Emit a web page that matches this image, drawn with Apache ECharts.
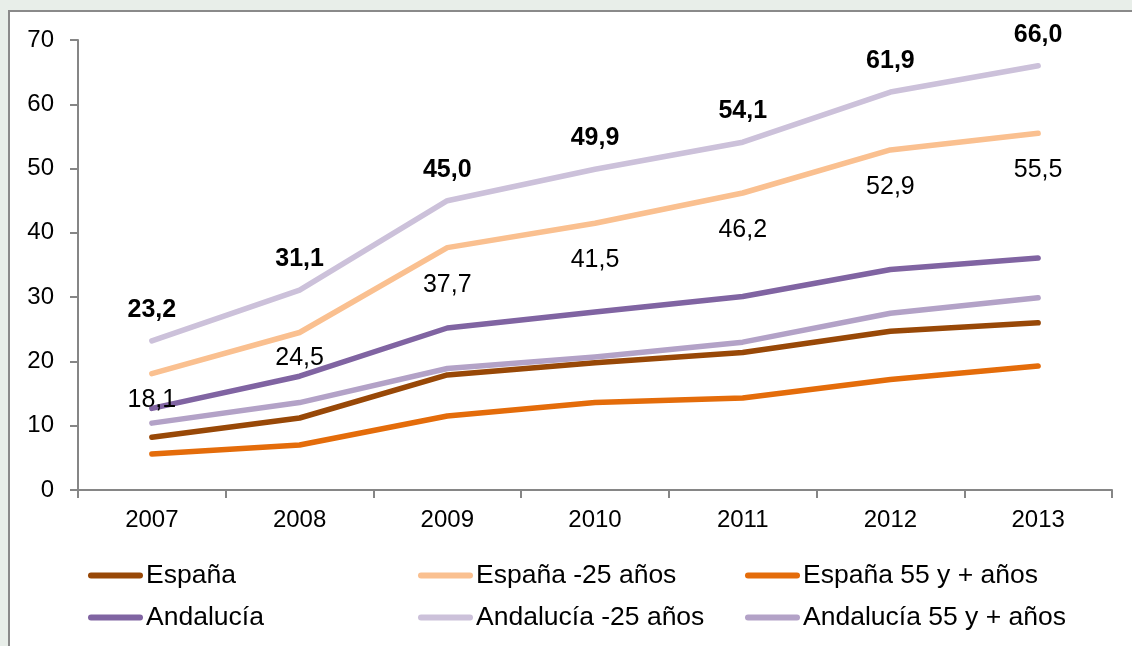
<!DOCTYPE html>
<html>
<head>
<meta charset="utf-8">
<script src="https://cdn.jsdelivr.net/npm/echarts@6/dist/echarts.min.js"></script>
<style>
html,body{margin:0;padding:0;background:#e8eee9;}
#chart{width:1132px;height:646px;}
</style>
</head>
<body>
<div id="chart"></div>
<script>
var years = ['2007','2008','2009','2010','2011','2012','2013'];
var yTicks = [0,10,20,30,40,50,60,70];
var seriesNames = ['España','España -25 años','España 55 y + años','Andalucía','Andalucía -25 años','Andalucía 55 y + años'];
var espana        = [8.2, 11.2, 17.9, 19.8, 21.4, 24.7, 26.0];
var espana25      = [18.1, 24.5, 37.7, 41.5, 46.2, 52.9, 55.5];
var espana55      = [5.6, 7.0, 11.5, 13.6, 14.3, 17.2, 19.3];
var andalucia     = [12.7, 17.7, 25.2, 27.7, 30.1, 34.3, 36.1];
var andalucia25   = [23.2, 31.1, 45.0, 49.9, 54.1, 61.9, 66.0];
var andalucia55   = [10.4, 13.6, 18.9, 20.7, 23.0, 27.5, 29.9];

var colors = ['#984807','#FAC090','#E46C0A','#8064A2','#CCC1DA','#B3A2C7'];
var values = [espana, espana25, espana55, andalucia, andalucia25, andalucia55];
var belowLabelDistance = [13, 13, 24, 24, 24, 24, 24];

var FONT = '"Liberation Sans", Arial, sans-serif';
var fmt = function(v){ return v.toFixed(1).replace('.', ','); };

var series = values.map(function(vals, i){
  var s = {
    name: seriesNames[i],
    type: 'line',
    data: vals.slice(),
    symbol: 'circle',
    symbolSize: 1,
    showSymbol: true,
    smooth: false,
    lineStyle: {color: colors[i], width: 5.5, cap: 'round', join: 'round'},
    itemStyle: {color: colors[i]},
    emphasis: {disabled: true},
    z: 2
  };
  if (i === 4) {
    s.data = vals.map(function(v){ return {value: v}; });
    s.label = {show: true, position: 'top', distance: 18, formatter: function(p){ return fmt(p.value); },
      fontFamily: FONT, fontSize: 25, fontWeight: 'bold', color: '#000'};
  }
  if (i === 1) {
    s.data = vals.map(function(v, k){ return {value: v, label: {distance: belowLabelDistance[k]}}; });
    s.label = {show: true, position: 'bottom', formatter: function(p){ return fmt(p.value); },
      fontFamily: FONT, fontSize: 25, color: '#000'};
  }
  return s;
});

var legendPos = [[88,562],[418,562],[745,562],[88,604],[418,604],[745,604]];
var legends = seriesNames.map(function(n, i){
  return {
    data: [n],
    left: legendPos[i][0], top: legendPos[i][1],
    padding: 0,
    icon: 'path://M3,0 L52,0 A3,3 0 0 1 52,6 L3,6 A3,3 0 0 1 3,0 Z',
    itemWidth: 55, itemHeight: 6, itemGap: 0,
    selectedMode: false,
    textStyle: {fontFamily: FONT, fontSize: 26.5, color: '#000', padding: [0,0,0,-2]}
  };
});

var chart = echarts.init(document.getElementById('chart'), null, {renderer: 'canvas'});
chart.setOption({
  backgroundColor: '#e8eee9',
  animation: false,
  color: colors,
  graphic: [{
    type: 'rect', left: 8, top: 10, z: -10,
    shape: {x: 0, y: 0, width: 1140, height: 650},
    style: {fill: '#ffffff', stroke: '#8a8a8a', lineWidth: 2}
  }],
  grid: {left: 78, right: 20, top: 40, bottom: 156, containLabel: false},
  legend: legends,
  xAxis: {
    type: 'category', data: years, boundaryGap: true,
    axisLine: {lineStyle: {color: '#868686', width: 2}},
    axisTick: {show: true, length: 8, lineStyle: {color: '#868686', width: 2}},
    axisLabel: {fontFamily: FONT, fontSize: 24, color: '#000', margin: 18}
  },
  yAxis: {
    type: 'value', min: yTicks[0], max: yTicks[yTicks.length-1], interval: 10,
    splitLine: {show: false},
    axisLine: {show: true, lineStyle: {color: '#868686', width: 2}},
    axisTick: {show: true, length: 8, lineStyle: {color: '#868686', width: 2}},
    axisLabel: {fontFamily: FONT, fontSize: 24, color: '#000', margin: 24}
  },
  series: series
});
</script>
</body>
</html>
